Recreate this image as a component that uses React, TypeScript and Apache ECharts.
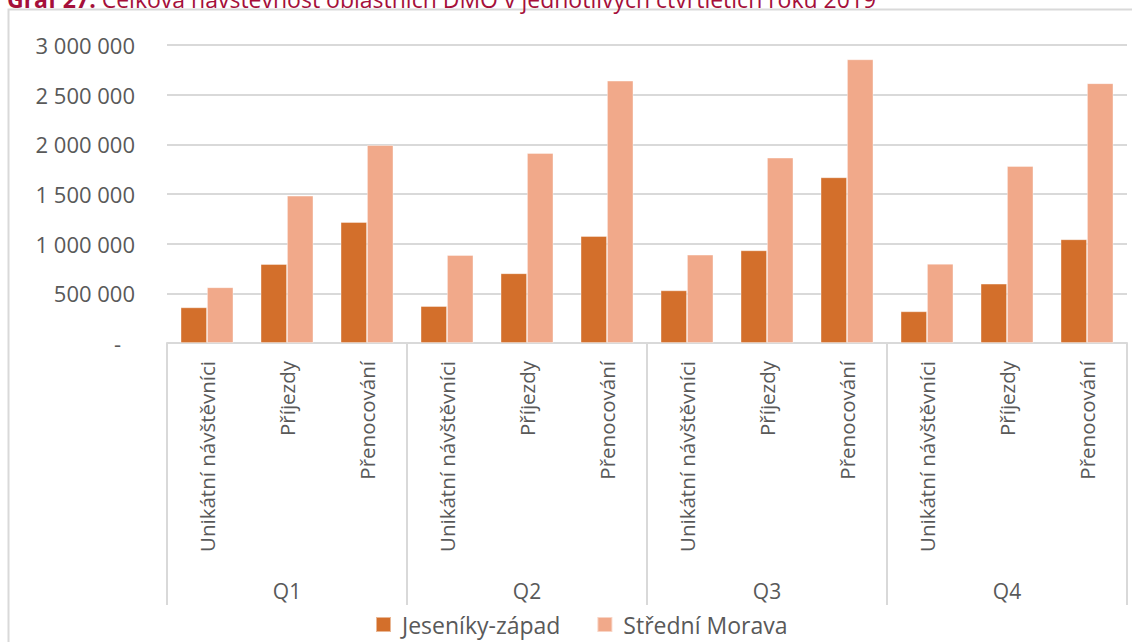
import React, { useEffect, useRef } from "react";
import * as echarts from "echarts";

const quarters = ["Q1", "Q2", "Q3", "Q4"];
const subCategories = ["Unikátní návštěvníci", "Příjezdy", "Přenocování"];
const seriesNames = ["Jeseníky-západ", "Střední Morava"];
const jesenikyZapad = [359000, 795000, 1218000, 372000, 702000, 1077000, 530000, 933000, 1668000, 319000, 597000, 1044000];
const stredniMorava = [561000, 1483000, 1993000, 886000, 1913000, 2641000, 889000, 1866000, 2856000, 798000, 1782000, 2615000];
const yTicks = { min: 0, max: 3000000, interval: 500000 };
const titleBold = "Graf 27:";
const titleRest = " Celková návštěvnost oblastních DMO v jednotlivých čtvrtletích roku 2019";

const FONT = "Open Sans";
const GREY = "#595959";
const LINE = "#d9d9d9";

function fmt(v: number): string {
  if (v === 0) return "{d|-}";
  return String(v).replace(/\B(?=(\d{3})+(?!\d))/g, " ");
}

export default function App() {
  const ref = useRef<HTMLDivElement>(null);
  useEffect(() => {
    if (!ref.current) return;
    const chart = echarts.init(ref.current, null, { renderer: "svg" });
    const keys: string[] = [];
    quarters.forEach((q) => subCategories.forEach((s) => keys.push(q + "|" + s)));
    chart.setOption({
      animation: false,
      backgroundColor: "#fff",
      textStyle: { fontFamily: FONT },
      graphic: [
        {
          type: "rect",
          shape: { x: 8.5, y: 9.5, width: 1300, height: 800 },
          style: { fill: "none", stroke: LINE, lineWidth: 2 },
          silent: true,
        },
        {
          type: "text",
          x: 7,
          y: 10,
          style: {
            text: "{b|" + titleBold + "}{n|" + titleRest + "}",
            verticalAlign: "bottom",
            rich: {
              b: { fontWeight: "bold", fontSize: 23, fill: "#A50F3A", fontFamily: FONT },
              n: { fontSize: 23, fill: "#A50F3A", fontFamily: FONT },
            },
          },
        },
      ],
      legend: {
        data: seriesNames,
        left: 370,
        top: 608,
        icon: "rect",
        itemWidth: 15,
        itemHeight: 15,
        itemGap: 36,
        textStyle: { color: GREY, fontSize: 23, fontFamily: FONT, padding: [0, 0, 0, 6] },
      },
      grid: { left: 167, right: 5, top: 45, bottom: 299, containLabel: false },
      xAxis: [
        {
          type: "category",
          data: keys,
          position: "bottom",
          axisLine: { show: true, lineStyle: { color: LINE, width: 2 } },
          axisTick: { show: false },
          axisLabel: {
            interval: 0,
            rotate: 90,
            margin: 18,
            color: GREY,
            fontSize: 20.5,
            fontFamily: FONT,
            formatter: (_v: string, i: number) => subCategories[i % 3],
          },
        },
        {
          type: "category",
          data: quarters,
          position: "bottom",
          boundaryGap: true,
          axisLine: { show: false },
          axisTick: { show: true, interval: 0, length: 262, lineStyle: { color: LINE, width: 2 } },
          axisLabel: { interval: 0, margin: 237, color: GREY, fontSize: 21, fontFamily: FONT },
        },
      ],
      yAxis: {
        type: "value",
        min: yTicks.min,
        max: yTicks.max,
        interval: yTicks.interval,
        axisLine: { show: false },
        axisTick: { show: false },
        splitLine: { lineStyle: { color: LINE, width: 2 } },
        axisLabel: {
          margin: 32,
          color: GREY,
          fontSize: 22,
          fontFamily: FONT,
          formatter: fmt,
          rich: { d: { color: GREY, fontSize: 22, fontFamily: FONT, padding: [0, 14, 0, 0] } },
        },
      },
      series: [
        {
          name: seriesNames[0],
          type: "bar",
          xAxisIndex: 0,
          data: jesenikyZapad,
          barGap: "0%",
          barCategoryGap: "34%",
          itemStyle: { color: "#D36F2B", borderColor: "rgba(255,255,255,0.5)", borderWidth: 0.8 },
        },
        {
          name: seriesNames[1],
          type: "bar",
          xAxisIndex: 0,
          data: stredniMorava,
          barGap: "0%",
          barCategoryGap: "34%",
          itemStyle: { color: "#F1A98A", borderColor: "rgba(255,255,255,0.5)", borderWidth: 0.8 },
        },
      ],
    });
    return () => chart.dispose();
  }, []);
  return (
    <div
      ref={ref}
      style={{ position: "fixed", left: 0, top: 0, width: 1132, height: 642, background: "#fff" }}
    />
  );
}
